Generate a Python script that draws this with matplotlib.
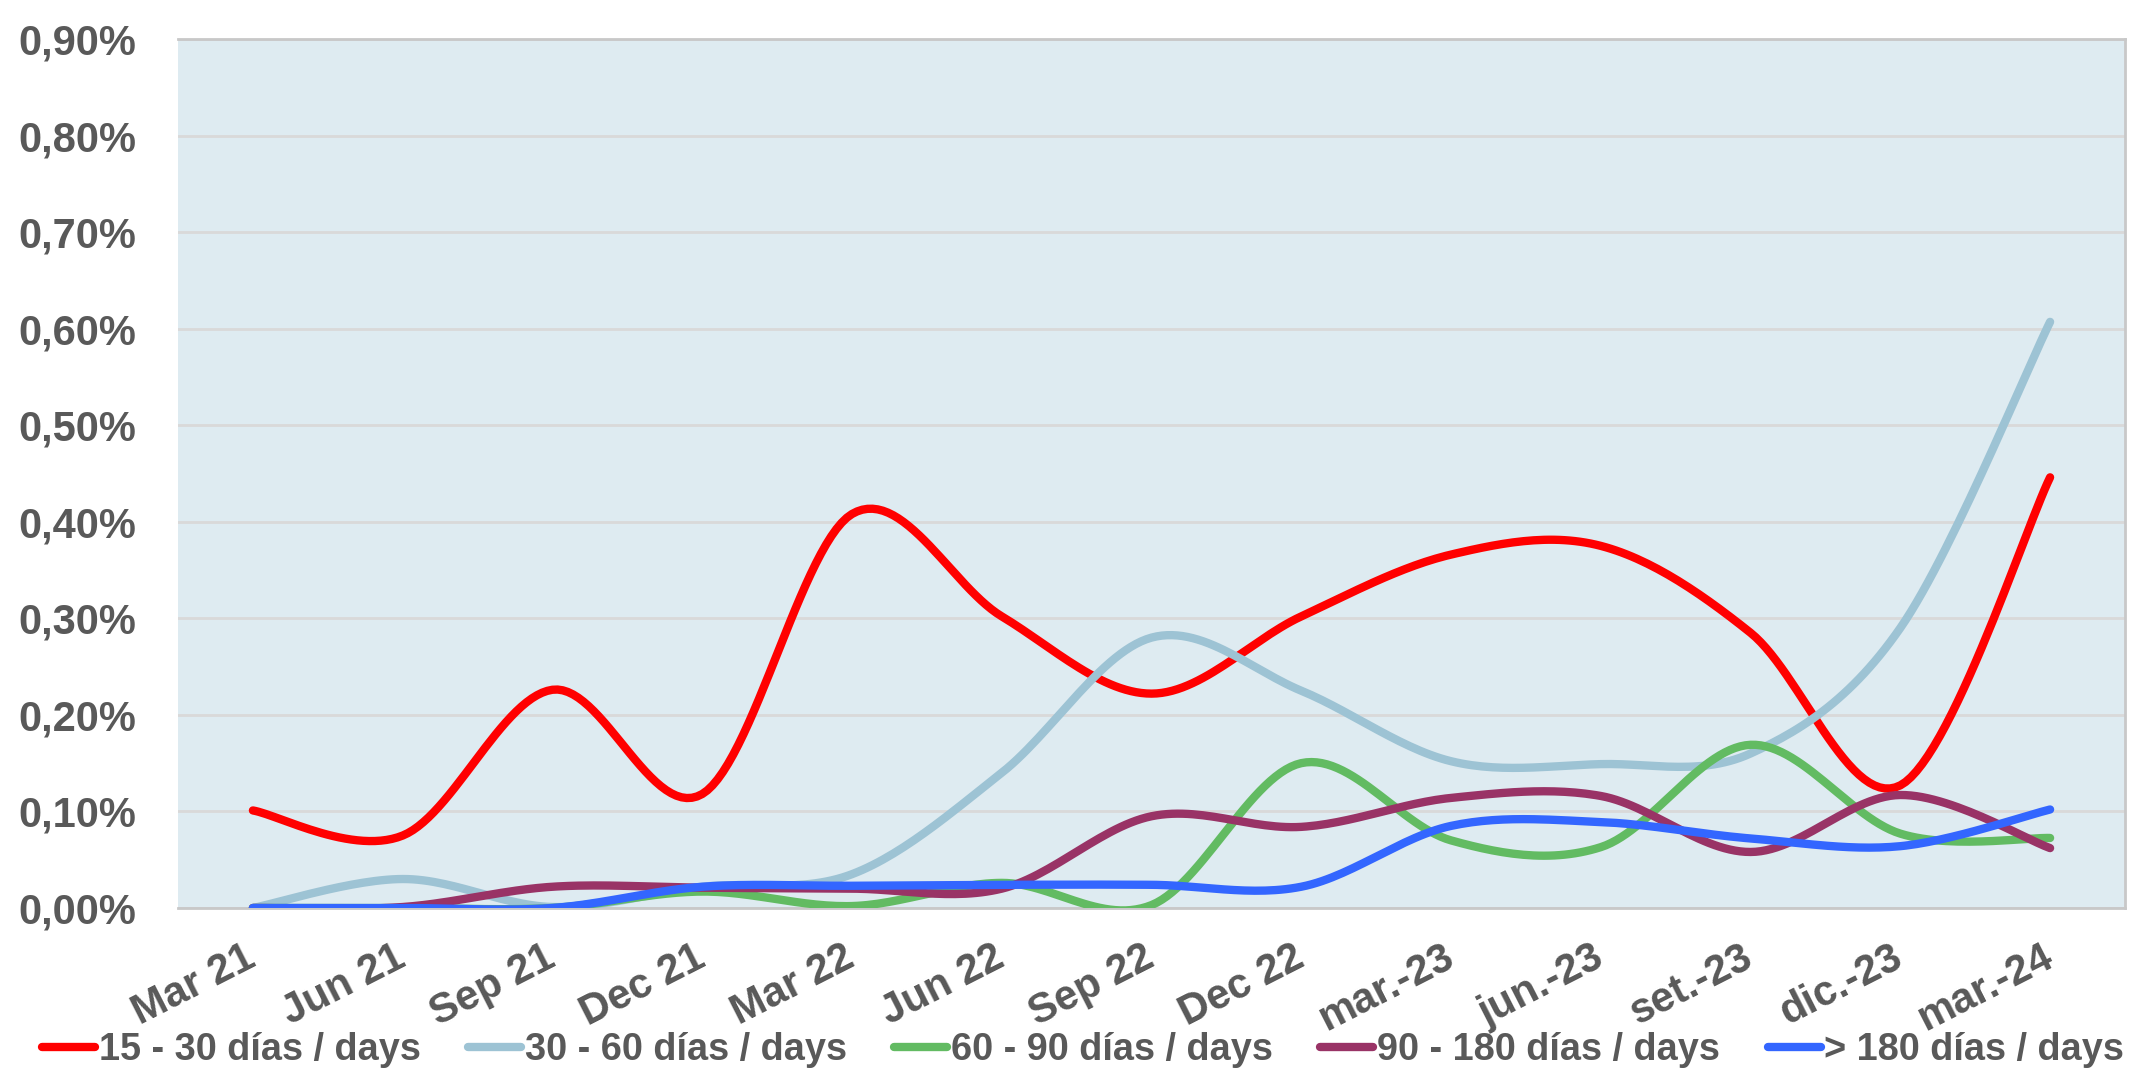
import numpy as np
import matplotlib.pyplot as plt
from matplotlib.ticker import FuncFormatter, MultipleLocator

plt.rcParams['font.family'] = ['Liberation Sans', 'DejaVu Sans']
plt.rcParams['font.weight'] = 'bold'

# Quarter labels as printed on the chart
labels = ["Mar 21", "Jun 21", "Sep 21", "Dec 21", "Mar 22", "Jun 22", "Sep 22",
          "Dec 22", "mar.-23", "jun.-23", "set.-23", "dic.-23", "mar.-24"]

# Values in percent
d15_30 = [0.101, 0.075, 0.226, 0.118, 0.408, 0.302, 0.222, 0.302, 0.366, 0.375, 0.285, 0.127, 0.446]
d30_60 = [0.0, 0.030, 0.001, 0.022, 0.035, 0.140, 0.280, 0.225, 0.152, 0.149, 0.160, 0.290, 0.607]
d60_90 = [0.0, 0.0, 0.0, 0.017, 0.002, 0.026, 0.003, 0.150, 0.070, 0.063, 0.169, 0.077, 0.0725]
d90_180 = [0.0, 0.001, 0.022, 0.021, 0.020, 0.020, 0.095, 0.084, 0.114, 0.116, 0.058, 0.117, 0.062]
d180 = [0.0, 0.0, 0.0, 0.022, 0.023, 0.024, 0.024, 0.022, 0.085, 0.089, 0.072, 0.064, 0.102]

series = [
    ("15 - 30 días / days", d15_30, "#FF0000"),
    ("30 - 60 días / days", d30_60, "#9DC3D4"),
    ("60 - 90 días / days", d60_90, "#62BB62"),
    ("90 - 180 días / days", d90_180, "#993366"),
    ("> 180 días / days", d180, "#3366FF"),
]

TEXT = "#595959"


def smooth(y, steps=30):
    # Excel-style smoothed line: cubic bezier with catmull-rom control points
    y = np.asarray(y, dtype=float)
    x = np.arange(len(y), dtype=float)
    pts = np.column_stack([x, y])
    ext = np.vstack([pts[0], pts, pts[-1]])
    t = np.linspace(0, 1, steps)[:, None]
    out = []
    for i in range(len(pts) - 1):
        p0, p1 = ext[i + 1], ext[i + 2]
        c1 = p0 + (ext[i + 2] - ext[i]) / 6
        c2 = p1 - (ext[i + 3] - ext[i + 1]) / 6
        seg = ((1 - t) ** 3) * p0 + 3 * ((1 - t) ** 2) * t * c1 + 3 * (1 - t) * t ** 2 * c2 + t ** 3 * p1
        out.append(seg if i == 0 else seg[1:])
    out = np.vstack(out)
    return out[:, 0], out[:, 1]


fig = plt.figure(figsize=(21.32, 10.79), dpi=100)
ax = fig.add_axes([0.0835, 0.1585, 0.9132, 0.8054])
ax.set_facecolor("#DEEBF1")

for name, vals, col in series:
    xs, ys = smooth(vals)
    ax.plot(xs, ys, color=col, lw=6, solid_capstyle="round", label=name, zorder=3)

ax.set_xlim(-0.5, len(labels) - 0.5)
ax.set_ylim(0, 0.9)
ax.yaxis.set_major_locator(MultipleLocator(0.1))
ax.yaxis.set_major_formatter(FuncFormatter(lambda v, p: f"{v:.2f}%".replace(".", ",")))
ax.grid(axis="y", color="#D9D9D9", lw=2, zorder=1)
ax.set_axisbelow(True)

ax.set_xticks(range(len(labels)))
ax.set_xticklabels(labels, rotation=27, ha="right", va="center", rotation_mode="anchor",
                   fontsize=30, color=TEXT, fontweight="bold")
ax.tick_params(axis="x", length=0, pad=34)
ax.tick_params(axis="y", length=0, pad=30, labelsize=30, labelcolor=TEXT)

ax.spines["left"].set_visible(False)
for s in ["right", "top", "bottom"]:
    ax.spines[s].set_color("#C8C8C8")
    ax.spines[s].set_linewidth(2)

fig.legend(loc="center", bbox_to_anchor=(0.508, 0.027), ncol=5, frameon=False,
           fontsize=27.3, handlelength=1.4, handletextpad=0.1, columnspacing=1.25,
           borderpad=0, labelcolor=TEXT)

fig.savefig("out.png", dpi=100)
